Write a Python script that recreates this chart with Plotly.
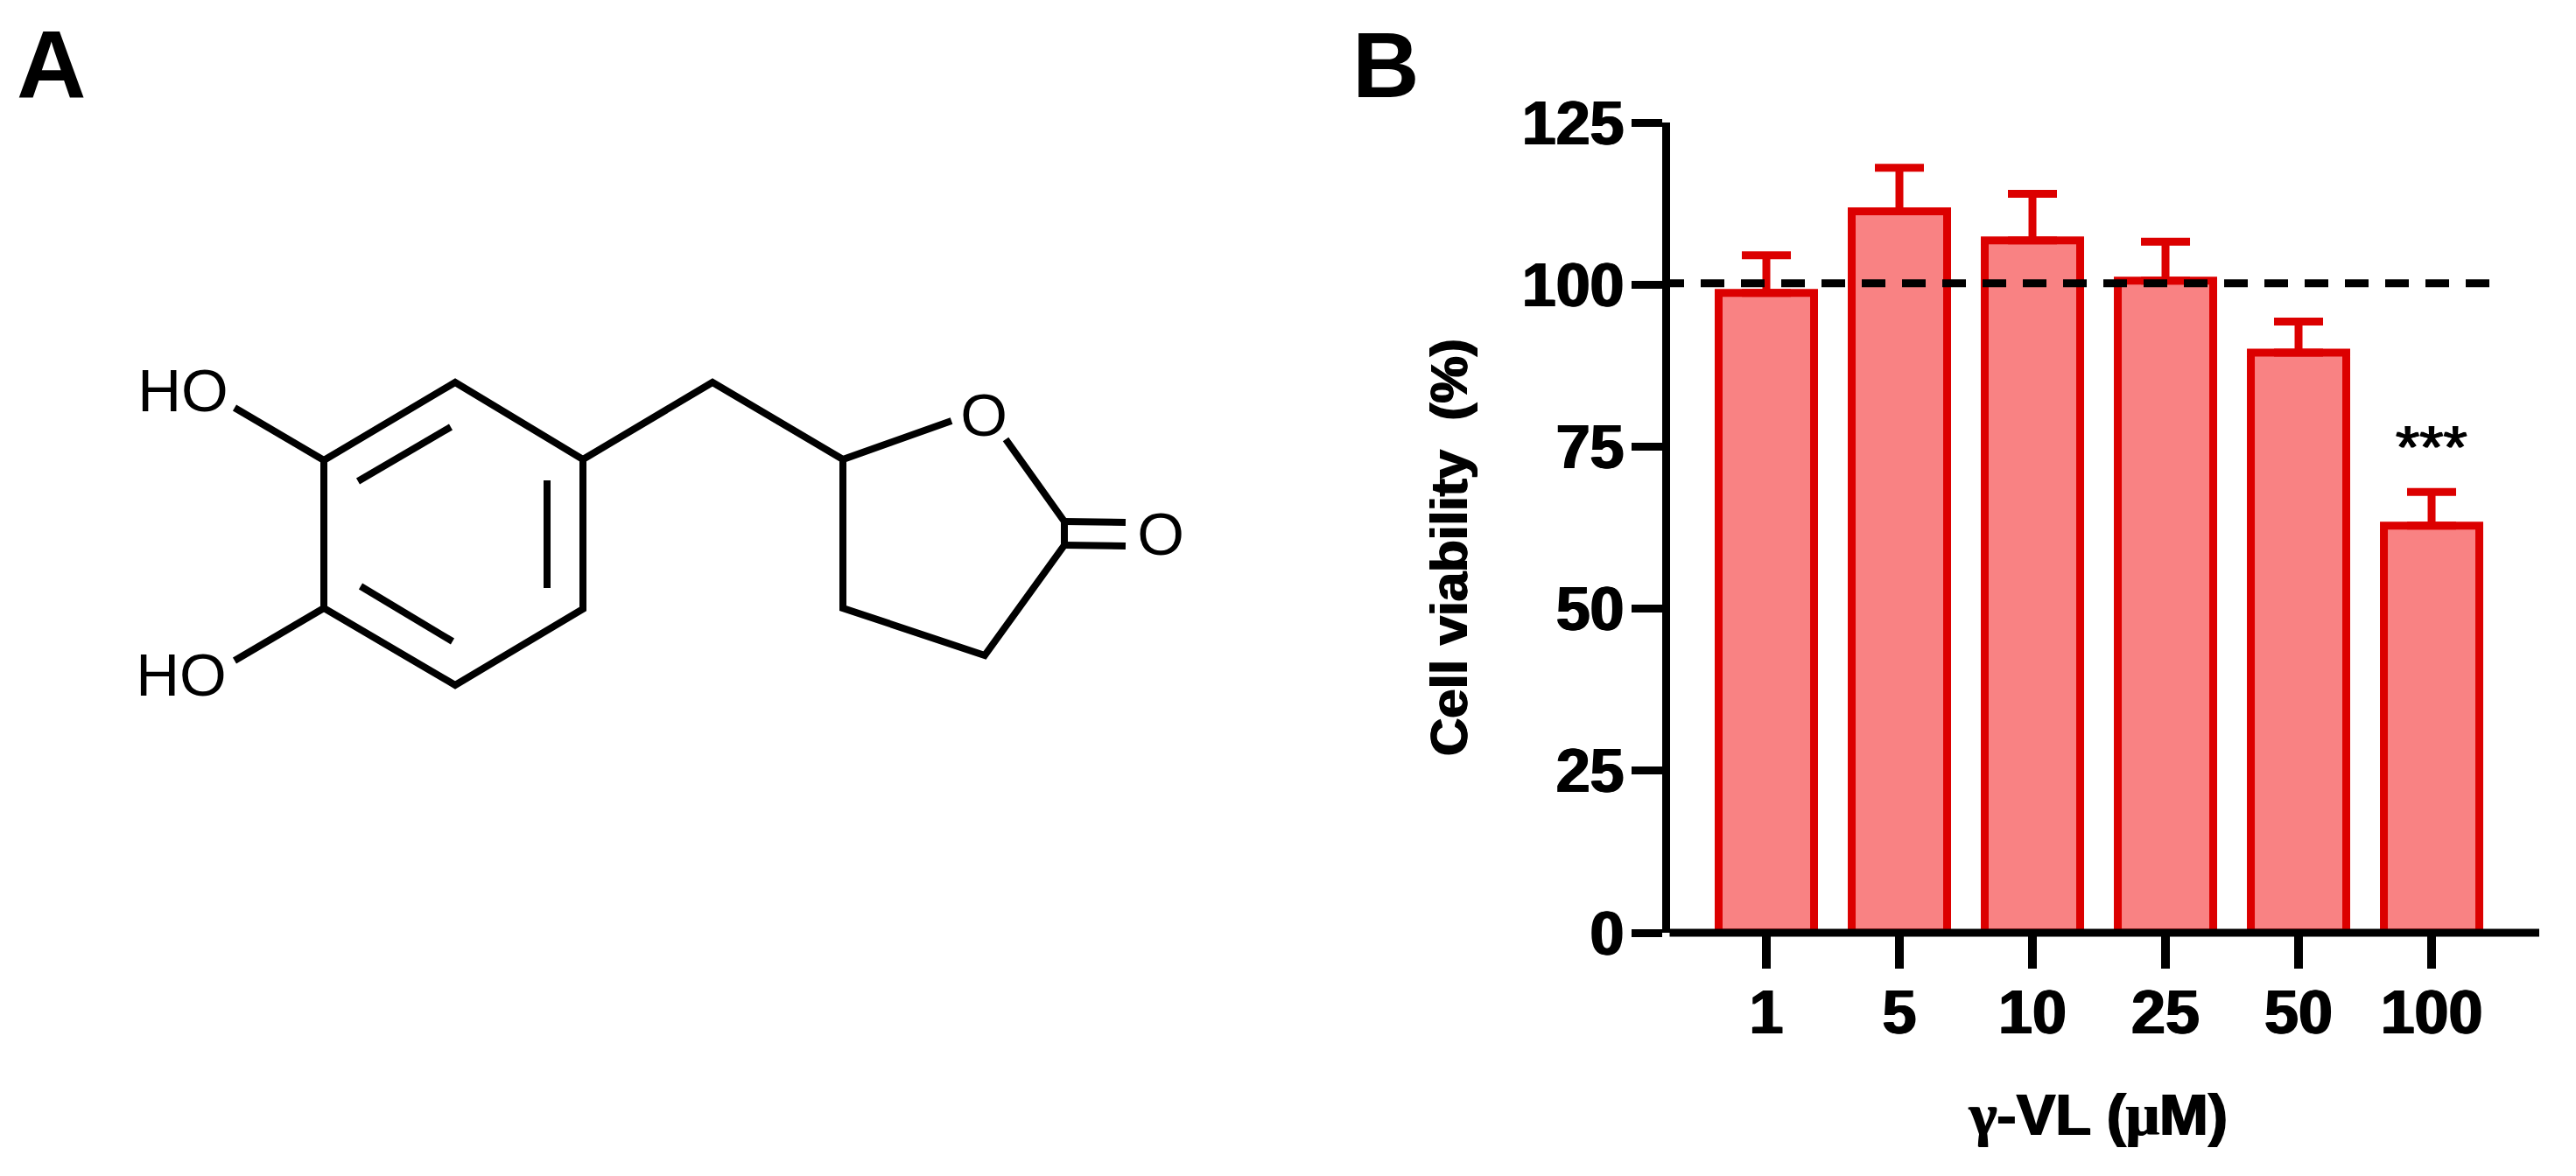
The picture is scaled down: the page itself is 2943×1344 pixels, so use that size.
import plotly.graph_objects as go

W, H = 2943, 1344
# --- panel B data ---
doses = ["1", "5", "10", "25", "50", "100"]
positions = [0, 1, 2, 3, 4, 5]
viability = [98.7, 111.3, 106.8, 100.6, 89.5, 62.8]
err_plus = [5.8, 6.7, 7.2, 6.0, 4.8, 5.2]
y_ticks = [0, 25, 50, 75, 100, 125]
ref_x = [-0.796, 5.447]
ref_y = [100.2, 100.2]

# --- panel A molecule, in image pixels ---
ring_x = [370, 520, 666, 666, 520, 370, 370]
ring_y = [526, 437, 525, 696, 783, 695, 526]
inner1_x = [409, 515]; inner1_y = [550, 488]
inner2_x = [625, 625]; inner2_y = [549, 672]
inner3_x = [412, 517]; inner3_y = [670, 733]
chain_x = [666, 814, 963, 1087]; chain_y = [525, 437, 525, 481]
lact_x = [963, 963, 1125, 1216, 1216, 1149]; lact_y = [525, 695, 749, 623, 596, 502]
co1_x = [1216, 1286]; co1_y = [596, 597]
co2_x = [1216, 1286]; co2_y = [623, 624]
oh1_x = [370, 268]; oh1_y = [526, 466]
oh2_x = [370, 268]; oh2_y = [695, 755]
atom_labels = ["HO", "HO", "O", "O"]
atom_x = [209, 207, 1124, 1326]
atom_y = [453, 778, 481, 617]

RED = "#DC0000"
FILL = "#F98283"
FONT = "Liberation Sans"
HEAVY = "1px 0 0 #000,-1px 0 0 #000"

fig = go.Figure()
fig.add_trace(go.Bar(
    x=positions, y=viability, width=0.717,
    marker=dict(color=FILL, line=dict(color=RED, width=9)),
    error_y=dict(type="data", symmetric=False, array=err_plus,
                 arrayminus=[0] * 6, color=RED, thickness=9, width=28),
    showlegend=False, xaxis="x", yaxis="y"))
fig.add_trace(go.Scatter(
    x=ref_x, y=ref_y, mode="lines", cliponaxis=False,
    line=dict(color="black", width=9, dash="27px,19px"),
    showlegend=False, xaxis="x", yaxis="y"))

segments = [(ring_x, ring_y), (inner1_x, inner1_y), (inner2_x, inner2_y),
            (inner3_x, inner3_y), (chain_x, chain_y), (lact_x, lact_y),
            (co1_x, co1_y), (co2_x, co2_y), (oh1_x, oh1_y), (oh2_x, oh2_y)]
for sx, sy in segments:
    fig.add_trace(go.Scatter(x=sx, y=sy, mode="lines", showlegend=False,
                             line=dict(color="black", width=8),
                             xaxis="x2", yaxis="y2"))
fig.add_trace(go.Scatter(x=atom_x, y=atom_y, text=atom_labels, mode="text",
                         textposition="middle center", showlegend=False,
                         textfont=dict(family=FONT, size=69, color="black"),
                         xaxis="x2", yaxis="y2"))

annotations = [
    dict(text="<b>A</b>", x=58, y=72, font=dict(size=110)),
    dict(text="<b>B</b>", x=1583, y=74, font=dict(size=106)),
    dict(text="<b>Cell viability  (%)</b>", x=1655, y=626, textangle=-90,
         font=dict(size=60, shadow=HEAVY)),
    dict(text='<b><span style="font-family:Liberation Serif">γ</span>-VL '
              '(<span style="font-family:Liberation Serif">μ</span>M)</b>',
         x=2397, y=1273, font=dict(size=67, shadow=HEAVY)),
]
for a in annotations:
    a.update(xref="x2", yref="y2", showarrow=False, xanchor="center", yanchor="middle")
    a["font"] = dict(family=FONT, color="black", **a["font"])
annotations.append(dict(text="***", x=5, y=74.8, xref="x", yref="y", showarrow=False,
                        xanchor="center", yanchor="middle",
                        font=dict(family=FONT, size=70, color="black", shadow=HEAVY)))

fig.update_layout(
    template="none",
    width=W, height=H, autosize=False,
    margin=dict(l=0, r=0, t=0, b=0, pad=0, autoexpand=False),
    paper_bgcolor="white", plot_bgcolor="rgba(0,0,0,0)",
    annotations=annotations,
    xaxis=dict(domain=[1907.5 / W, 2901 / W], range=[-0.727, 5.809], anchor="y", automargin=False,
               tickmode="array", tickvals=positions, ticktext=doses,
               ticks="outside", ticklen=40, tickwidth=10, tickcolor="black",
               ticklabelstandoff=-10,
               showgrid=False, zeroline=False, showline=False,
               tickfont=dict(family=FONT, size=70, color="black", weight="bold", shadow=HEAVY)),
    yaxis=dict(domain=[(H - 1066) / H, (H - 140) / H], range=[0, 125], anchor="x", automargin=False,
               tickmode="array", tickvals=y_ticks,
               ticks="outside", ticklen=35, tickwidth=9, tickcolor="black",
               ticklabelstandoff=-6,
               showgrid=False, zeroline=False, showline=True, linewidth=9, linecolor="black",
               tickfont=dict(family=FONT, size=70, color="black", weight="bold", shadow=HEAVY)),
    xaxis2=dict(domain=[0, 1], range=[0, W], anchor="y2", visible=False, automargin=False),
    yaxis2=dict(domain=[0, 1], range=[H, 0], anchor="x2", visible=False, automargin=False),
    shapes=[dict(type="line", xref="paper", yref="paper", layer="above",
                 x0=1907.5 / W, x1=2901 / W, y0=(H - 1066) / H, y1=(H - 1066) / H,
                 line=dict(color="black", width=9))],
)
fig.write_html("out.html", post_script="document.body.style.margin='0';document.documentElement.style.overflow='hidden';",
               config={"displayModeBar": False})
